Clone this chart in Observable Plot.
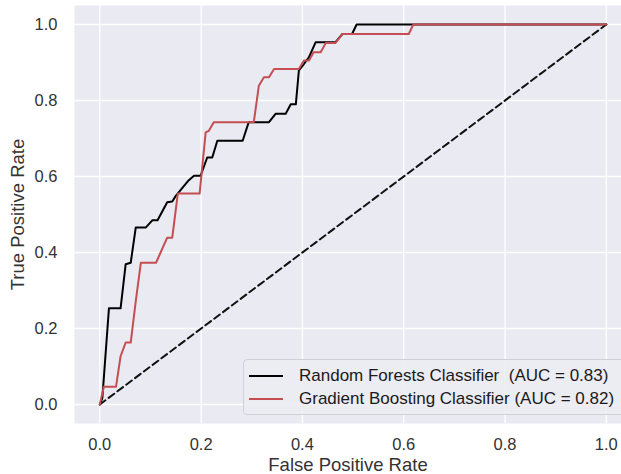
<!DOCTYPE html>
<html><head><meta charset="utf-8">
<script src="https://cdn.jsdelivr.net/npm/d3@7"></script>
<script src="https://cdn.jsdelivr.net/npm/@observablehq/plot@0.6"></script>
<style>
body{margin:0;background:#fff;font-family:"Liberation Sans",Arial,sans-serif;}
#wrap{position:relative;width:621px;height:474px;overflow:hidden;}
#legend{position:absolute;left:243px;top:359px;width:392px;height:56px;background:rgba(236,236,243,0.9);border:1px solid #cfd0d8;border-radius:4px;box-sizing:border-box;}
.row{position:absolute;left:0;height:22px;display:flex;align-items:center;font-size:17px;color:#1a1a1a;white-space:pre;}
.sw{display:inline-block;width:34px;height:2px;margin-left:5px;margin-right:16px;}
</style></head><body><div id="wrap"></div>
<script>
// Random Forests ROC curve points
const rfFpr = [0, 0.005, 0.018, 0.041, 0.051, 0.061, 0.071, 0.091, 0.104, 0.114, 0.133, 0.143, 0.150, 0.174, 0.186, 0.199, 0.212, 0.222, 0.232, 0.282, 0.294, 0.334, 0.347, 0.367, 0.377, 0.387, 0.393, 0.403, 0.413, 0.426, 0.442, 0.465, 0.479, 0.498, 0.507, 1.0];
const rfTpr = [0, 0.017, 0.253, 0.253, 0.369, 0.373, 0.466, 0.466, 0.485, 0.485, 0.532, 0.534, 0.549, 0.588, 0.602, 0.602, 0.650, 0.650, 0.694, 0.694, 0.743, 0.743, 0.765, 0.765, 0.790, 0.790, 0.879, 0.896, 0.914, 0.953, 0.953, 0.953, 0.975, 0.975, 1.0, 1.0];
// Gradient Boosting ROC curve points
const gbFpr = [0, 0.008, 0.032, 0.041, 0.051, 0.061, 0.071, 0.081, 0.111, 0.133, 0.143, 0.154, 0.197, 0.209, 0.215, 0.225, 0.304, 0.314, 0.324, 0.334, 0.344, 0.393, 0.403, 0.413, 0.422, 0.436, 0.446, 0.465, 0.479, 0.610, 0.619, 1.0];
const gbTpr = [0, 0.047, 0.047, 0.127, 0.163, 0.163, 0.272, 0.373, 0.373, 0.439, 0.439, 0.555, 0.555, 0.716, 0.720, 0.743, 0.743, 0.839, 0.861, 0.861, 0.883, 0.883, 0.905, 0.905, 0.927, 0.927, 0.951, 0.951, 0.975, 0.975, 1.0, 1.0];
// Chance diagonal
const chanceFpr = [0, 1];
const chanceTpr = [0, 1];

const seriesNames = ["Random Forests Classifier", "Gradient Boosting Classifier"];
const seriesAuc = ["0.83", "0.82"];
const seriesSep = ["  ", " "];
const seriesColors = ["#000000", "#c44e52"];
const xTicks = [0, 0.2, 0.4, 0.6, 0.8, 1.0];
const yTicks = [0, 0.2, 0.4, 0.6, 0.8, 1.0];
const xLabel = "False Positive Rate";
const yLabel = "True Positive Rate";

const rows = [];
rfFpr.forEach((f, i) => rows.push({model: seriesNames[0], fpr: f, tpr: rfTpr[i]}));
gbFpr.forEach((f, i) => rows.push({model: seriesNames[1], fpr: f, tpr: gbTpr[i]}));
const chance = chanceFpr.map((f, i) => ({fpr: f, tpr: chanceTpr[i]}));

const fmt = d3.format(".1f");
const chart = Plot.plot({
  width: 621, height: 474,
  marginLeft: 74, marginRight: 0, marginTop: 5, marginBottom: 51,
  style: {fontFamily: "'Liberation Sans', Arial, sans-serif", fontSize: "16px", color: "#333", background: "transparent", overflow: "visible"},
  x: {domain: [-0.05, 1.03]},
  y: {domain: [-0.05, 1.05]},
  color: {domain: seriesNames, range: seriesColors},
  marks: [
    Plot.frame({fill: "#eaeaf2", stroke: null}),
    Plot.gridX(xTicks, {stroke: "#ffffff", strokeOpacity: 1, strokeWidth: 1.3}),
    Plot.gridY(yTicks, {stroke: "#ffffff", strokeOpacity: 1, strokeWidth: 1.3}),
    Plot.axisX(xTicks, {tickSize: 0, tickPadding: 15, tickFormat: fmt, label: null, fontSize: 16.5, fill: "#333"}),
    Plot.axisY(yTicks, {tickSize: 0, tickPadding: 17, tickFormat: fmt, label: null, fontSize: 16.5, fill: "#333"}),
    Plot.line(chance, {x: "fpr", y: "tpr", stroke: "#111", strokeWidth: 2, strokeDasharray: "7,4"}),
    Plot.line(rows, {x: "fpr", y: "tpr", z: "model", stroke: "model", strokeWidth: 2}),
    Plot.text([xLabel], {frameAnchor: "bottom", lineAnchor: "middle", textAnchor: "middle", dy: 42, fontSize: 18.5, fill: "#333"}),
    Plot.text([yLabel], {frameAnchor: "left", lineAnchor: "middle", textAnchor: "middle", dx: -56, rotate: -90, fontSize: 18.5, fill: "#333"})
  ]
});
const wrap = document.getElementById("wrap");
wrap.appendChild(chart);

const legend = document.createElement("div");
legend.id = "legend";
seriesNames.forEach((name, i) => {
  const row = document.createElement("div");
  row.className = "row";
  row.style.top = (5 + i * 23) + "px";
  const sw = document.createElement("span");
  sw.className = "sw";
  sw.style.background = seriesColors[i];
  const t = document.createElement("span");
  t.textContent = name + seriesSep[i] + "(AUC = " + seriesAuc[i] + ")";
  row.appendChild(sw);
  row.appendChild(t);
  legend.appendChild(row);
});
wrap.appendChild(legend);
</script></body></html>
